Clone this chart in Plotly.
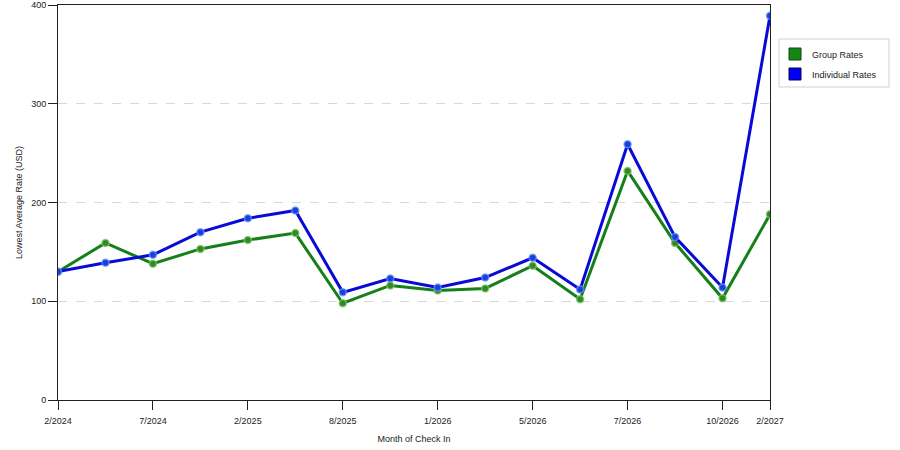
import plotly.graph_objects as go

# Data
months = ["2/2024", "4/2024", "7/2024", "11/2024", "2/2025", "5/2025", "8/2025", "11/2025",
          "1/2026", "3/2026", "5/2026", "6/2026", "7/2026", "9/2026", "10/2026", "2/2027"]
shown_labels = ["2/2024", "7/2024", "2/2025", "8/2025", "1/2026", "5/2026", "7/2026", "10/2026", "2/2027"]
group_rates = [130, 159, 138, 153, 162, 169, 98, 116, 111, 113, 136, 102, 232, 159, 103, 188]
individual_rates = [130, 139, 147, 170, 184, 192, 109, 123, 114, 124, 144, 112, 259, 165, 114, 389]

x_idx = list(range(len(months)))
tick_idx = [months.index(m) for m in shown_labels]

green = "#15801a"
blue = "#0a0ad8"

# plot area in pixels (left, top, right, bottom)
L, T, R, B = 58, 5, 770, 400


def px_x(p):
    return (p - L) / (R - L)


def px_y(p):
    return (B - p) / (B - T)


fig = go.Figure()
fig.add_trace(go.Scatter(
    x=x_idx, y=group_rates, name="Group Rates", mode="lines+markers",
    line=dict(color=green, width=3),
    marker=dict(color="#2e8a22", size=7, line=dict(color="rgba(130,195,100,0.75)", width=1.5)),
))
fig.add_trace(go.Scatter(
    x=x_idx, y=individual_rates, name="Individual Rates", mode="lines+markers",
    line=dict(color=blue, width=3),
    marker=dict(color="#1a3fe0", size=7, line=dict(color="rgba(100,150,240,0.75)", width=1.5)),
))

# hand-drawn legend box with square swatches
shapes = [dict(type="rect", xref="paper", yref="paper",
               x0=px_x(779), x1=px_x(889), y0=px_y(87), y1=px_y(39),
               line=dict(color="#d0d0d0", width=1), fillcolor="white", layer="above")]
annotations = []
legend_items = [("Group Rates", "#138613", "#0b4a0b", 48), ("Individual Rates", "#0000f0", "#00006a", 68)]
for name, fill, edge, top in legend_items:
    shapes.append(dict(type="rect", xref="paper", yref="paper",
                       x0=px_x(789), x1=px_x(801), y0=px_y(top + 12), y1=px_y(top),
                       line=dict(color=edge, width=1), fillcolor=fill, layer="above"))
    annotations.append(dict(xref="paper", yref="paper", x=px_x(810), y=px_y(top + 6.5),
                            text=name, showarrow=False, xanchor="left", yanchor="middle",
                            font=dict(size=9, color="#222")))

fig.update_layout(
    width=900, height=450,
    margin=dict(l=L, r=900 - R, t=T, b=450 - B, autoexpand=False),
    paper_bgcolor="white", plot_bgcolor="white",
    font=dict(family="Liberation Sans, Arial, sans-serif", size=9, color="#222"),
    showlegend=False,
    shapes=shapes, annotations=annotations,
)
fig.update_xaxes(
    range=[0, 15], tickmode="array", tickvals=tick_idx, ticktext=shown_labels,
    showgrid=False, zeroline=False, showline=True, linecolor="#222", linewidth=1,
    mirror=True, ticks="outside", ticklen=9, tickcolor="#222", automargin=False,
    ticklabelstandoff=3,
    title=dict(text="Month of Check In", standoff=10, font=dict(size=9)),
)
fig.update_yaxes(
    range=[0, 400], tickvals=[0, 100, 200, 300, 400],
    showgrid=True, gridcolor="#d8d8d8", griddash="dash", zeroline=False,
    showline=True, linecolor="#222", linewidth=1, mirror=True,
    ticks="outside", ticklen=9, tickcolor="#222", automargin=False,
    title=dict(text="Lowest Average Rate (USD)", standoff=7, font=dict(size=9)),
)

fig.write_html("out.html", config={"displayModeBar": False},
               post_script="document.body.style.margin='0';")
